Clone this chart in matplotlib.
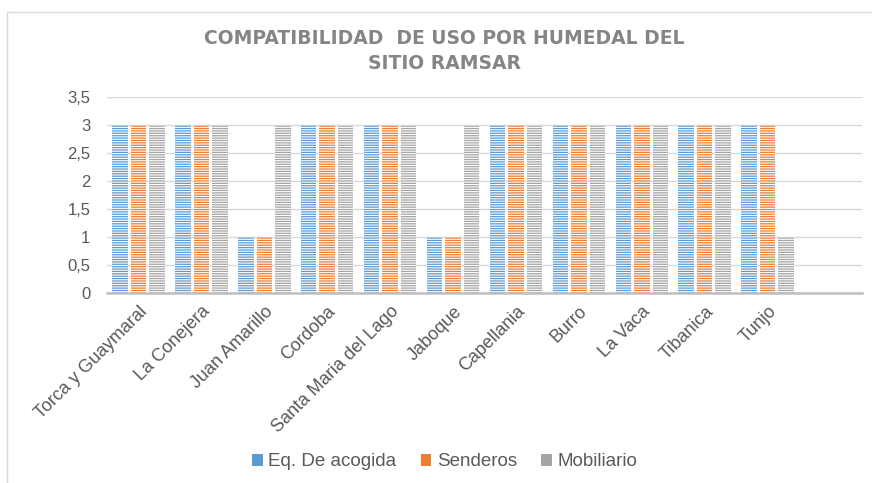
import matplotlib
matplotlib.use("Agg")
import matplotlib.pyplot as plt
from matplotlib.patches import Patch, Rectangle
import numpy as np

categories = ["Torca y Guaymaral", "La Conejera", "Juan Amarillo", "Cordoba",
              "Santa Maria del Lago", "Jaboque", "Capellania", "Burro",
              "La Vaca", "Tibanica", "Tunjo"]
series_names = ["Eq. De acogida", "Senderos", "Mobiliario"]
eq_acogida = [3, 3, 1, 3, 3, 1, 3, 3, 3, 3, 3]
senderos = [3, 3, 1, 3, 3, 1, 3, 3, 3, 3, 3]
mobiliario = [3, 3, 3, 3, 3, 3, 3, 3, 3, 3, 1]
yticks = [0, 0.5, 1, 1.5, 2, 2.5, 3, 3.5]
ytick_labels = ["0", "0,5", "1", "1,5", "2", "2,5", "3", "3,5"]
colors = ["#5B9BD5", "#ED7D31", "#A5A5A5"]

plt.rcParams['font.family'] = ['Liberation Sans', 'DejaVu Sans']
plt.rcParams['hatch.linewidth'] = 0.8

W, H = 872, 483
fig = plt.figure(figsize=(W / 100, H / 100), dpi=100)
ax = fig.add_axes([107 / W, 1 - 293 / H, (862 - 107) / W, (293 - 97) / H])

# outer chart border
fig.patches.append(Rectangle((7 / W, -0.1), 1.2, 1 - 12.5 / H + 0.1,
                             transform=fig.transFigure, fill=False,
                             edgecolor="#D9D9D9", linewidth=1.0))

x = np.arange(len(categories))
bw = 0.246
off = 0.294
for i, (vals, c) in enumerate(zip([eq_acogida, senderos, mobiliario], colors)):
    ax.bar(x + (i - 1) * off, vals, width=bw, color=c, edgecolor="#FFFFFF",
           linewidth=0, hatch="-------", zorder=3)

ax.set_xlim(-0.5, len(categories) + 0.5)
ax.set_ylim(0, 3.5)
ax.set_yticks(yticks)
ax.set_yticklabels(ytick_labels)
ax.set_xticks(x)
ax.set_xticklabels(categories, rotation=45, ha="right", va="top",
                   rotation_mode="anchor")
ax.tick_params(axis="y", length=0, pad=12, labelsize=12, labelcolor="#595959")
ax.tick_params(axis="x", length=0, pad=7, labelsize=13, labelcolor="#595959")
ax.grid(axis="y", color="#D9D9D9", linewidth=1.0, zorder=0)
for s in ["top", "right", "left"]:
    ax.spines[s].set_visible(False)
ax.spines["bottom"].set_color("#BFBFBF")
ax.spines["bottom"].set_linewidth(1.8)
ax.spines["bottom"].set_zorder(4)

fig.text(0.51, 1 - 39 / H, "COMPATIBILIDAD  DE USO POR HUMEDAL DEL",
         ha="center", va="center", fontsize=13.5, fontweight="bold",
         color="#858585", family=["DejaVu Sans"])
fig.text(0.51, 1 - 63.5 / H, "SITIO RAMSAR",
         ha="center", va="center", fontsize=13.5, fontweight="bold",
         color="#858585", family=["DejaVu Sans"])

handles = [Patch(facecolor=c, edgecolor="none") for c in colors]
fig.legend(handles, series_names, loc="center",
           bbox_to_anchor=(0.51, 1 - 462 / H), ncol=3, frameon=False,
           fontsize=13.5, handlelength=0.55, handleheight=0.55,
           handletextpad=0.3, columnspacing=1.3, labelcolor="#595959")

fig.savefig("out.png", dpi=100)
